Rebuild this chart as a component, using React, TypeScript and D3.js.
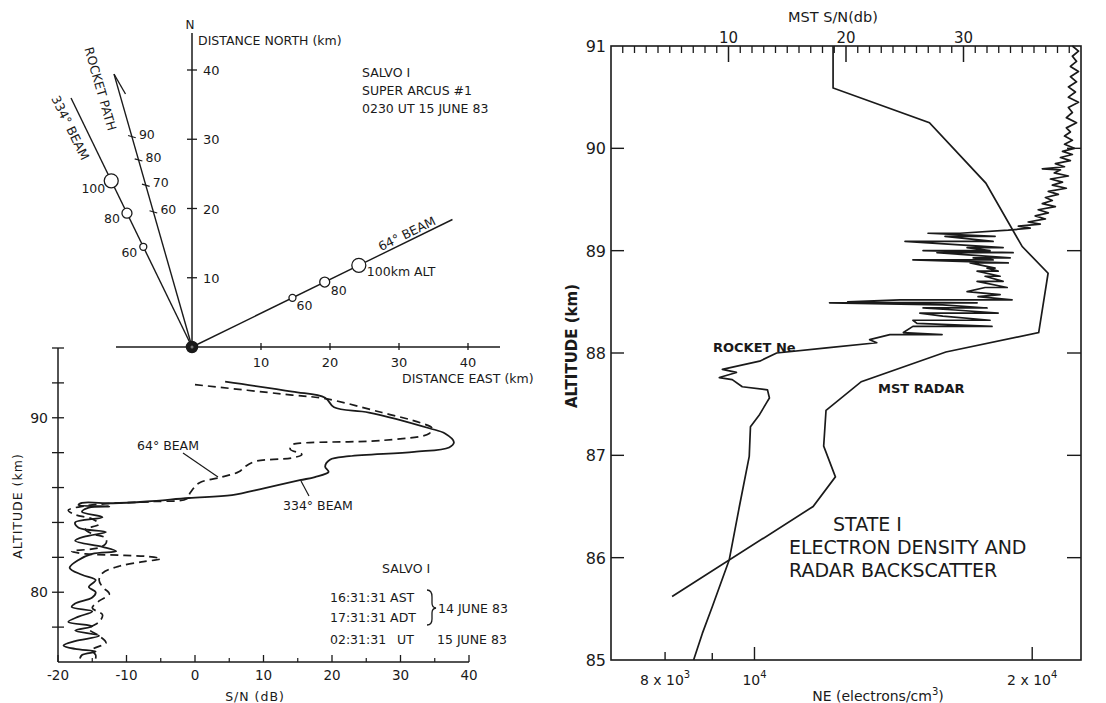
import * as d3 from "d3";
import React from "react";

// ---- map panel (ground track) ----
const markerAlts = [60, 80, 100];
const beam334Dist = [16.1, 21.5, 26.7];
const beam64Dist = [16.2, 21.4, 26.9];
const beamAz = [334, 64];
const beamLength = [40, 42];
const rocketAz = 344;
const rocketLength = 41;
const rocketTickAlts = [60, 70, 80, 90];
const rocketTickDist = [20.3, 24.3, 28.1, 31.6];
const mapTicks = [10, 20, 30, 40];

// ---- S/N vs altitude panel: [altitude km, S/N dB] ----
const beam334SN = [
  [92.07, 4.4], [91.5, 14.2], [91.15, 19], [90.6, 20.3], [90.3, 25.4], [89.4, 34.2], [89.1, 36.5],
  [88.6, 37.8], [88.3, 37.1], [88.05, 32], [87.8, 22.5], [87.6, 19.7], [87.2, 19], [86.9, 19.5],
  [86.6, 17.5], [86.42, 15.3], [85.97, 10.2], [85.57, 5.4], [85.4, -0.9], [85.2, -7], [85.1, -12],
  [85.12, -16.5], [85.0, -17], [84.92, -12.5], [84.85, -15.5], [84.6, -16.5], [84.3, -13.5],
  [84.0, -17.5], [83.7, -17], [83.45, -13], [83.2, -16], [82.95, -17.5], [82.6, -13.5],
  [82.35, -11.5], [82.2, -15], [81.85, -17], [81.4, -18.3], [81.0, -16.5], [80.7, -14.5],
  [80.3, -15.5], [80.0, -14.5], [79.7, -15], [79.35, -17.5], [79.15, -18], [78.9, -15],
  [78.6, -17], [78.3, -18.5], [78.05, -15], [77.8, -17.5], [77.5, -14], [77.2, -17.5],
  [76.95, -19.2], [76.75, -17.5], [76.6, -14.5], [76.4, -16.5], [76.2, -16.8],
];
const beam64SN = [
  [91.9, 0], [91.3, 14.2], [91.1, 19], [90.3, 27.3], [89.7, 33], [89.4, 34.6], [89.1, 34.2],
  [88.7, 27.3], [88.56, 16], [88.45, 14.2], [88.2, 13.9], [87.9, 15.6], [87.7, 14.2], [87.5, 8.8],
  [87.2, 7.3], [86.9, 6.4], [86.6, 3.9], [86.26, 0.6], [85.7, -0.7], [85.35, -1.2], [85.2, -6],
  [85.1, -12], [84.95, -16], [84.7, -18.5], [84.45, -17.5], [84.2, -15], [83.9, -14], [83.6, -16],
  [83.35, -15], [83.1, -13], [82.8, -13], [82.55, -14], [82.35, -18], [82.2, -16], [82.12, -11],
  [82.05, -7], [81.92, -5], [81.75, -7.5], [81.5, -11], [81.1, -13.5], [80.7, -14], [80.3, -13.5],
  [79.9, -12.5], [79.5, -14], [79.1, -15], [78.7, -13.5], [78.3, -14], [77.9, -15.5], [77.5, -14],
  [77.1, -13], [76.7, -15], [76.4, -14.5], [76.2, -14.5],
];
const snTicks = [-20, -10, 0, 10, 20, 30, 40];
const altLeftTicks = [78, 80, 82, 84, 86, 88, 90, 92, 94];
const altLeftLabels = [80, 90];

// ---- right panel: rocket Ne [altitude km, electrons/cm3] ----
const rocketNe = [
  [85.0, 8590], [85.26, 8780], [85.52, 9000], [85.98, 9390], [86.5, 9630], [86.99, 9870],
  [87.28, 9900], [87.4, 10130], [87.51, 10300], [87.56, 10380], [87.64, 10330], [87.67, 9700],
  [87.74, 9460], [87.76, 9160], [87.81, 9560], [87.84, 9230], [87.92, 10130], [88.0, 10570],
  [88.05, 11970], [88.1, 13570], [88.13, 13330], [88.18, 14020], [88.18, 15970], [88.2, 14500],
  [88.26, 14850], [88.26, 18090], [88.29, 15000], [88.32, 14850], [88.32, 18000], [88.36, 16000],
  [88.39, 15110], [88.39, 18370], [88.42, 16500], [88.44, 15230], [88.44, 17870], [88.47, 16000],
  [88.49, 12060], [88.49, 17430], [88.5, 12620], [88.52, 14380], [88.52, 19020], [88.55, 17470],
  [88.57, 18460], [88.6, 17000], [88.64, 17780], [88.64, 18790], [88.7, 17430], [88.7, 18600],
  [88.75, 17780], [88.75, 18460], [88.8, 17430], [88.8, 18370], [88.83, 17870], [88.83, 18230],
  [88.88, 17130], [88.88, 18840], [88.91, 14850], [88.91, 18140], [88.93, 17260], [88.93, 18930],
  [88.98, 15770], [88.98, 19070], [89.0, 15230], [89.0, 18000], [89.03, 17000], [89.03, 18600],
  [89.09, 14560], [89.09, 18140], [89.14, 16090], [89.14, 18230], [89.17, 15420], [89.17, 16700],
  [89.2, 18840], [89.22, 19900], [89.24, 19320], [89.26, 20410], [89.28, 19800], [89.31, 20670],
  [89.34, 20150], [89.37, 20820], [89.4, 20300], [89.43, 21190], [89.46, 20510], [89.49, 21030],
  [89.52, 20670], [89.55, 21350], [89.58, 20820], [89.61, 21780], [89.64, 21030], [89.67, 21570],
  [89.7, 20930], [89.73, 21890], [89.76, 21130], [89.79, 21460], [89.8, 20510], [89.82, 21680],
  [89.85, 21190], [89.88, 22000], [89.91, 21460], [89.94, 22110], [89.97, 21570], [90.0, 22220],
  [90.04, 21680], [90.08, 22110], [90.12, 21680], [90.16, 22000], [90.2, 21780], [90.25, 22340],
  [90.3, 21780], [90.35, 22110], [90.4, 21890], [90.45, 22450], [90.5, 21890], [90.55, 22280],
  [90.6, 21890], [90.65, 22340], [90.7, 22000], [90.75, 22450], [90.8, 22000], [90.85, 22340],
  [90.9, 22110], [90.95, 22450], [91.0, 22110],
];
// MST radar [altitude km, S/N db]
const mstRadar = [
  [91.0, 18.9], [90.59, 18.9], [90.25, 27.1], [89.66, 31.9], [89.04, 35.0], [88.78, 37.2],
  [88.2, 36.4], [88.01, 28.5], [87.72, 21.3], [87.44, 18.3], [87.09, 18.1], [86.79, 19.1],
  [86.5, 17.2], [85.62, 5.2],
];
const altRightTicks = [85, 86, 87, 88, 89, 90, 91];
const mstMajor = [10, 20, 30];
const neTicks = [8000, 9000, 10000, 20000];

const INK = "#1a1a1a";
const FONT = "DejaVu Sans, Liberation Sans, sans-serif";

const mapX = d3.scaleLinear().domain([0, 40]).range([192, 468]);
const mapY = d3.scaleLinear().domain([0, 40]).range([347, 70]);
const polar = (az: number, d: number): [number, number] => [
  mapX(d * Math.sin((az * Math.PI) / 180)),
  mapY(d * Math.cos((az * Math.PI) / 180)),
];

const snX = d3.scaleLinear().domain([-20, 40]).range([58, 469]);
const altL = d3.scaleLinear().domain([76, 94]).range([662, 348]);

const neX = d3.scaleLog().domain([6990, 22590]).range([611, 1081]);
const mstX = d3.scaleLinear().domain([0, 40]).range([611, 1081]);
const altR = d3.scaleLinear().domain([85, 91]).range([660, 46]);

const markerR = (alt: number) => (alt === 100 ? 7 : alt === 80 ? 5 : 3.5);

function MapPanel() {
  const origin = polar(0, 0);
  const beams = [beam334Dist, beam64Dist];
  const tip = polar(rocketAz, rocketLength);
  // half arrowhead: one barb on the east side, ~22px long
  const backAng = Math.atan2(origin[1] - tip[1], origin[0] - tip[0]) - (14 * Math.PI) / 180;
  const barb = [tip[0] + 23 * Math.cos(backAng), tip[1] + 23 * Math.sin(backAng)];
  const labelOff334 = [[-6, 10], [-7, 10], [-6, 12]];
  const labelOff64 = [[4, 12], [6, 13]];
  return (
    <g fill={INK} fontFamily={FONT}>
      {/* axes */}
      <line x1={192} y1={33} x2={192} y2={347} stroke={INK} strokeWidth={1.5} />
      <line x1={116} y1={347} x2={500} y2={347} stroke={INK} strokeWidth={1.5} />
      {mapTicks.map((t) => (
        <g key={"my" + t}>
          <line x1={187} x2={197} y1={mapY(t)} y2={mapY(t)} stroke={INK} strokeWidth={1.3} />
          <text x={203} y={mapY(t) + 5} fontSize={13}>{t}</text>
          <line x1={mapX(t)} x2={mapX(t)} y1={343} y2={350} stroke={INK} strokeWidth={1.3} />
          <text x={mapX(t)} y={367} fontSize={13} textAnchor="middle">{t}</text>
        </g>
      ))}
      <text x={190} y={29} fontSize={12} textAnchor="middle">N</text>
      <text x={198} y={45} fontSize={12.5}>DISTANCE NORTH (km)</text>
      <text x={402} y={383} fontSize={12.5}>DISTANCE EAST (km)</text>

      {/* beams */}
      {beamAz.map((az, i) => {
        const end = polar(az, beamLength[i]);
        return (
          <line key={"b" + az} x1={origin[0]} y1={origin[1]} x2={end[0]} y2={end[1]} stroke={INK} strokeWidth={1.4} />
        );
      })}
      {beams.map((dists, i) =>
        dists.map((d, j) => {
          const [cx, cy] = polar(beamAz[i], d);
          return <circle key={"c" + i + j} cx={cx} cy={cy} r={markerR(markerAlts[j])} fill="#fff" stroke={INK} strokeWidth={1.3} />;
        })
      )}
      {beam334Dist.map((d, j) => {
        const [cx, cy] = polar(334, d);
        return (
          <text key={"l334" + j} x={cx + labelOff334[j][0]} y={cy + labelOff334[j][1]} fontSize={12.5} textAnchor="end">
            {markerAlts[j]}
          </text>
        );
      })}
      {beam64Dist.slice(0, 2).map((d, j) => {
        const [cx, cy] = polar(64, d);
        return (
          <text key={"l64" + j} x={cx + labelOff64[j][0]} y={cy + labelOff64[j][1]} fontSize={12.5}>
            {markerAlts[j]}
          </text>
        );
      })}
      {(() => {
        const [cx, cy] = polar(64, beam64Dist[2]);
        return <text x={cx + 8} y={cy + 11} fontSize={12.5}>100km ALT</text>;
      })()}

      {/* rocket path */}
      <line x1={origin[0]} y1={origin[1]} x2={tip[0]} y2={tip[1]} stroke={INK} strokeWidth={1.4} />
      <line x1={tip[0]} y1={tip[1]} x2={barb[0]} y2={barb[1]} stroke={INK} strokeWidth={1.3} />
      {rocketTickDist.map((d, j) => {
        const [px, py] = polar(rocketAz, d);
        const [ux, uy] = [Math.cos((rocketAz * Math.PI) / 180), Math.sin((rocketAz * Math.PI) / 180)];
        return (
          <g key={"rt" + j}>
            <line x1={px - ux * 4} y1={py + uy * 4} x2={px + ux * 4} y2={py - uy * 4} stroke={INK} strokeWidth={1.2} />
            <text x={px + 7} y={py + 2} fontSize={12.5}>{rocketTickAlts[j]}</text>
          </g>
        );
      })}
      <circle cx={origin[0]} cy={origin[1]} r={5.5} fill={INK} stroke={INK} strokeWidth={1.5} />
      <circle cx={origin[0]} cy={origin[1]} r={1.5} fill="#777" />

      {/* rotated labels */}
      <text transform="translate(70,128) rotate(64)" fontSize={12.5} textAnchor="middle" dy={4}>334° BEAM</text>
      <text transform="translate(100,89) rotate(74)" fontSize={12.5} textAnchor="middle" dy={4}>ROCKET PATH</text>
      <text transform="translate(407,234) rotate(-26)" fontSize={12.5} textAnchor="middle" dy={4}>64° BEAM</text>

      <text x={362} y={77} fontSize={12.5}>SALVO I</text>
      <text x={362} y={95} fontSize={12.5}>SUPER ARCUS #1</text>
      <text x={362} y={113} fontSize={12.5}>0230 UT  15 JUNE 83</text>
    </g>
  );
}

function SNPanel() {
  const line = d3
    .line<number[]>()
    .x((d) => snX(d[1]))
    .y((d) => altL(d[0]))
    .curve(d3.curveCatmullRom.alpha(0.5));
  const minor = d3.range(-15, 40, 10);
  return (
    <g fill={INK} fontFamily={FONT}>
      <line x1={58} y1={348} x2={58} y2={662} stroke={INK} strokeWidth={1.5} />
      <line x1={58} y1={662} x2={469} y2={662} stroke={INK} strokeWidth={1.5} />
      {altLeftTicks.map((t) => (
        <line key={"at" + t} x1={52} x2={64} y1={altL(t)} y2={altL(t)} stroke={INK} strokeWidth={1.3} />
      ))}
      {altLeftLabels.map((t) => (
        <text key={"al" + t} x={48} y={altL(t) + 5} fontSize={14} textAnchor="end">{t}</text>
      ))}
      {snTicks.map((t) => (
        <g key={"st" + t}>
          <line x1={snX(t)} x2={snX(t)} y1={655} y2={662} stroke={INK} strokeWidth={1.3} />
          <text x={snX(t)} y={680} fontSize={13.5} textAnchor="middle">{t}</text>
        </g>
      ))}
      {minor.map((t) => (
        <line key={"sm" + t} x1={snX(t)} x2={snX(t)} y1={658} y2={662} stroke={INK} strokeWidth={1.2} />
      ))}
      <text x={255} y={701} fontSize={12.5} textAnchor="middle" letterSpacing={1}>S/N (dB)</text>
      <text transform="translate(22,506) rotate(-90)" fontSize={12.5} textAnchor="middle" letterSpacing={1}>ALTITUDE (km)</text>

      <path d={line(beam64SN) || ""} fill="none" stroke={INK} strokeWidth={1.7} strokeDasharray="8,5" />
      <path d={line(beam334SN) || ""} fill="none" stroke={INK} strokeWidth={1.8} />

      <text x={137} y={450} fontSize={12.5}>64° BEAM</text>
      <line x1={183} y1={453} x2={218} y2={477} stroke={INK} strokeWidth={1.2} />
      <text x={283} y={510} fontSize={12.5}>334° BEAM</text>
      <line x1={309} y1={496} x2={301} y2={481} stroke={INK} strokeWidth={1.2} />

      <text x={382} y={573} fontSize={12.5}>SALVO I</text>
      <text x={330} y={602} fontSize={12.5}>16:31:31 AST</text>
      <text x={330} y={622} fontSize={12.5}>17:31:31 ADT</text>
      <text x={330} y={644} fontSize={12.5}>02:31:31</text>
      <text x={397} y={644} fontSize={12.5}>UT</text>
      <text x={437} y={644} fontSize={12.5}>15 JUNE 83</text>
      <path
        d="M427,590 Q432,590 432,597 L432,603 Q432,607.5 436,608 Q432,608.5 432,613 L432,619 Q432,625 427,625"
        fill="none"
        stroke={INK}
        strokeWidth={1.3}
      />
      <text x={438} y={613} fontSize={12.5}>14 JUNE 83</text>
    </g>
  );
}

function NePanel() {
  const neLine = d3
    .line<number[]>()
    .x((d) => neX(d[1]))
    .y((d) => altR(d[0]));
  const mstLine = d3
    .line<number[]>()
    .x((d) => mstX(d[1]))
    .y((d) => altR(d[0]));
  const minorMst = mstX.ticks(40).filter((t) => t > 0 && t < 40 && !mstMajor.includes(t));
  return (
    <g fill={INK} fontFamily={FONT}>
      <rect x={611} y={46} width={470} height={614} fill="none" stroke={INK} strokeWidth={1.6} />
      {minorMst.map((t) => (
        <line key={"mm" + t} x1={mstX(t)} x2={mstX(t)} y1={46} y2={53} stroke={INK} strokeWidth={1.3} />
      ))}
      {mstMajor.map((t) => (
        <g key={"mj" + t}>
          <line x1={mstX(t)} x2={mstX(t)} y1={46} y2={62} stroke={INK} strokeWidth={1.5} />
          <text x={mstX(t)} y={43} fontSize={15} textAnchor="middle">{t}</text>
        </g>
      ))}
      <text x={833} y={22} fontSize={14.5} textAnchor="middle">MST S/N(db)</text>

      {altRightTicks.map((t) => (
        <g key={"ar" + t}>
          {t > 85 && t < 91 && (
            <>
              <line x1={611} x2={624} y1={altR(t)} y2={altR(t)} stroke={INK} strokeWidth={1.4} />
              <line x1={1067} x2={1081} y1={altR(t)} y2={altR(t)} stroke={INK} strokeWidth={1.4} />
            </>
          )}
          <text x={606} y={altR(t) + 6} fontSize={16} textAnchor="end">{t}</text>
        </g>
      ))}
      <text transform="translate(577,346) rotate(-90)" fontSize={15} textAnchor="middle" fontWeight="bold">ALTITUDE (km)</text>

      {neTicks.map((t) => (
        <line
          key={"nt" + t}
          x1={neX(t)}
          x2={neX(t)}
          y1={t === 9000 ? 653 : t === 8000 ? 652 : 647}
          y2={660}
          stroke={INK}
          strokeWidth={1.4}
        />
      ))}
      <text x={neX(8000)} y={685} fontSize={14} textAnchor="middle">
        8 x 10<tspan dy={-7} fontSize={10}>3</tspan>
      </text>
      <text x={neX(10000)} y={685} fontSize={14} textAnchor="middle">
        10<tspan dy={-7} fontSize={10}>4</tspan>
      </text>
      <text x={neX(20000)} y={685} fontSize={14} textAnchor="middle">
        2 x 10<tspan dy={-7} fontSize={10}>4</tspan>
      </text>
      <text x={878} y={701} fontSize={14} textAnchor="middle">
        NE (electrons/cm<tspan dy={-6} fontSize={10}>3</tspan>
        <tspan dy={6}>)</tspan>
      </text>

      <path d={mstLine(mstRadar) || ""} fill="none" stroke={INK} strokeWidth={1.7} />
      <path d={neLine(rocketNe) || ""} fill="none" stroke={INK} strokeWidth={1.7} strokeLinejoin="round" />

      <text x={713} y={352} fontSize={13} fontWeight="bold">ROCKET Ne</text>
      <text x={878} y={393} fontSize={13} fontWeight="bold">MST RADAR</text>
      <text x={833} y={531} fontSize={19}>STATE I</text>
      <text x={789} y={554} fontSize={19}>ELECTRON DENSITY AND</text>
      <text x={789} y={577} fontSize={19}>RADAR BACKSCATTER</text>
    </g>
  );
}

export default function App() {
  return (
    <svg
      width={1106}
      height={703}
      viewBox="0 0 1106 703"
      style={{ position: "absolute", left: 0, top: 0, background: "#fff" }}
    >
      <rect width={1106} height={703} fill="#fff" />
      <MapPanel />
      <SNPanel />
      <NePanel />
    </svg>
  );
}
